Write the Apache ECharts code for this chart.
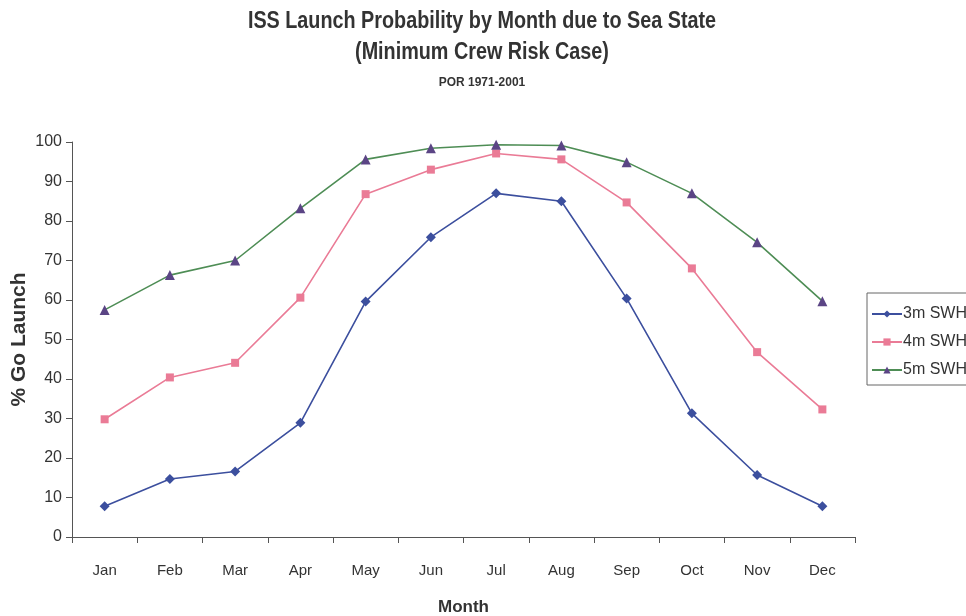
<!DOCTYPE html>
<html>
<head>
<meta charset="utf-8">
<script src="https://cdn.jsdelivr.net/npm/echarts@6/dist/echarts.min.js"></script>
<style>
html,body{margin:0;padding:0;background:#fff;}
#c{width:966px;height:616px;}
</style>
</head>
<body>
<div id="c"></div>
<script>
var months = ['Jan','Feb','Mar','Apr','May','Jun','Jul','Aug','Sep','Oct','Nov','Dec'];
var swh3 = [7.8, 14.7, 16.6, 28.9, 59.6, 75.9, 87.0, 85.0, 60.4, 31.3, 15.7, 7.8];
var swh4 = [29.8, 40.4, 44.1, 60.6, 86.8, 93.0, 97.1, 95.6, 84.7, 68.0, 46.8, 32.3];
var swh5 = [57.5, 66.3, 70.0, 83.2, 95.6, 98.4, 99.3, 99.1, 94.9, 87.0, 74.6, 59.7];
var yTicks = [0,10,20,30,40,50,60,70,80,90,100];
var titleLines = ['ISS Launch Probability by Month due to Sea State', '(Minimum Crew Risk Case)'];
var subTitle = 'POR 1971-2001';

var font = '"Liberation Sans", Arial, sans-serif';
var chart = echarts.init(document.getElementById('c'), null, {renderer:'canvas'});
chart.setOption({
  backgroundColor: '#ffffff',
  animation: false,
  graphic: [
    {type: 'text', x: 482, y: 22, scaleX: 0.86, silent: true,
     style: {text: titleLines[0], textAlign: 'center', textVerticalAlign: 'middle',
             font: 'bold 23px ' + font, fill: '#333'}},
    {type: 'text', x: 482, y: 53, scaleX: 0.86, silent: true,
     style: {text: titleLines[1], textAlign: 'center', textVerticalAlign: 'middle',
             font: 'bold 23px ' + font, fill: '#333'}},
    {type: 'text', x: 482, y: 82, scaleX: 0.92, silent: true,
     style: {text: subTitle, textAlign: 'center', textVerticalAlign: 'middle',
             font: 'bold 13px ' + font, fill: '#333'}}
  ],
  legend: {
    orient: 'vertical', left: 867, top: 293,
    itemWidth: 30, itemHeight: 9, itemGap: 12,
    padding: [13, 20, 7, 4],
    borderColor: '#666', borderWidth: 1,
    textStyle: {fontFamily: font, fontSize: 16, color: '#333', padding: [0,0,0,-4]},
    data: ['3m SWH','4m SWH','5m SWH']
  },
  grid: {left: 72, right: 111, top: 142, bottom: 79, containLabel: false, outerBoundsMode: 'none'},
  xAxis: {
    type: 'category', data: months, boundaryGap: true,
    name: 'Month', nameLocation: 'middle', nameGap: 62, nameMoveOverlap: false,
    nameTextStyle: {fontFamily: font, fontWeight: 'bold', fontSize: 17, color: '#333'},
    axisLine: {lineStyle: {color: '#555', width: 1}},
    axisTick: {show: true, length: 6, lineStyle: {color: '#555'}},
    axisLabel: {fontFamily: font, fontSize: 15, color: '#333', margin: 26},
    splitLine: {show: false}
  },
  yAxis: {
    type: 'value', min: yTicks[0], max: yTicks[yTicks.length-1], interval: 10,
    name: '% Go Launch', nameLocation: 'middle', nameGap: 42, nameRotate: 90, nameMoveOverlap: false,
    nameTextStyle: {fontFamily: font, fontWeight: 'bold', fontSize: 21, color: '#333'},
    axisLine: {show: true, lineStyle: {color: '#555', width: 1}},
    axisTick: {show: true, length: 6, lineStyle: {color: '#555'}},
    axisLabel: {fontFamily: font, fontSize: 16, color: '#333', margin: 10},
    splitLine: {show: false}
  },
  series: [
    {name: '3m SWH', type: 'line', data: swh3, symbol: 'diamond', symbolSize: 10,
     lineStyle: {color: '#3c4f9e', width: 1.6}, itemStyle: {color: '#3c4f9e'}},
    {name: '4m SWH', type: 'line', data: swh4, symbol: 'rect', symbolSize: 8,
     lineStyle: {color: '#ea7b96', width: 1.6}, itemStyle: {color: '#ea7b96'}},
    {name: '5m SWH', type: 'line', data: swh5, symbol: 'triangle', symbolSize: 10,
     lineStyle: {color: '#4e8d55', width: 1.6}, itemStyle: {color: '#5b4585'}}
  ]
});
</script>
</body>
</html>
